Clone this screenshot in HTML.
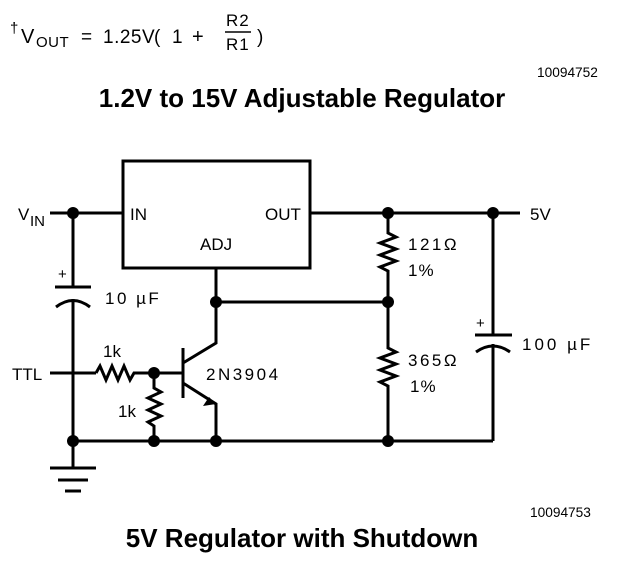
<!DOCTYPE html>
<html><head><meta charset="utf-8"><style>
body{margin:0;background:#fff;width:620px;height:584px;overflow:hidden}
svg{display:block}
text{font-family:"Liberation Sans",sans-serif;fill:#000}
</style></head><body>
<svg width="620" height="584" viewBox="0 0 620 584">
<text x="10" y="33" font-size="15">†</text>
<text x="21" y="43" font-size="20">V</text>
<text x="36" y="47" font-size="15" letter-spacing="0.5">OUT</text>
<text x="81" y="43" font-size="19">=</text>
<text x="103" y="43" font-size="19" letter-spacing="0.5">1.25V</text>
<text x="154" y="43" font-size="19">(</text>
<text x="172" y="43" font-size="19">1</text>
<text x="192" y="43" font-size="20">+</text>
<text x="226" y="26" font-size="17" letter-spacing="1">R2</text>
<line x1="225" y1="32" x2="251" y2="32" stroke="#000" stroke-width="1.5"/>
<text x="226" y="50" font-size="17" letter-spacing="1">R1</text>
<text x="257" y="43" font-size="19">)</text>
<text x="537" y="77" font-size="13.7">10094752</text>
<text x="302" y="107" font-size="26" font-weight="bold" text-anchor="middle">1.2V to 15V Adjustable Regulator</text>

<g stroke="#000" stroke-width="3" fill="none">
<rect x="123" y="161" width="187" height="107"/>
<line x1="50" y1="213" x2="123" y2="213"/>
<line x1="310" y1="213" x2="520" y2="213"/>
<line x1="73" y1="213" x2="73" y2="287"/>
<line x1="55" y1="287" x2="91" y2="287"/>
<path d="M56 307 Q73 294 90 307"/>
<line x1="73" y1="299" x2="73" y2="468"/>
<line x1="50" y1="468" x2="96" y2="468"/>
<line x1="58" y1="480" x2="88" y2="480"/>
<line x1="65" y1="491" x2="81" y2="491"/>
<line x1="50" y1="373" x2="96" y2="373"/>
<polyline points="96,373 100,366 106,380 112,366 118,380 124,366 130,380 134,373 183,373"/>
<polyline points="154,373 154,388 161,392 148,398 161,404 148,410 161,416 148,422 154,426 154,441"/>
<line x1="183" y1="348" x2="183" y2="398"/>
<polyline points="183,363 216,343 216,268"/>
<polyline points="183,383 216,404 216,441"/>
<line x1="216" y1="302" x2="388" y2="302"/>
<line x1="73" y1="441" x2="493" y2="441"/>
<polyline points="388,213 388,233 396,237 380,243 396,249 380,255 396,261 380,267 388,271 388,348 396,352 380,358 396,364 380,370 396,376 380,382 388,386 388,441"/>
<line x1="493" y1="213" x2="493" y2="335"/>
<line x1="475" y1="335" x2="512" y2="335"/>
<path d="M476 352 Q493 340 510 352"/>
<line x1="493" y1="344" x2="493" y2="441"/>
</g>
<polygon points="216,404 203,406 209,397" fill="#000"/>
<g fill="#000">
<circle cx="73" cy="213" r="6"/><circle cx="388" cy="213" r="6"/><circle cx="493" cy="213" r="6"/>
<circle cx="216" cy="302" r="6"/><circle cx="388" cy="302" r="6"/>
<circle cx="154" cy="373" r="6"/>
<circle cx="73" cy="441" r="6"/><circle cx="154" cy="441" r="6"/><circle cx="216" cy="441" r="6"/><circle cx="388" cy="441" r="6"/>
</g>
<g font-size="17">
<text x="18" y="220">V</text><text x="30" y="226" font-size="15">IN</text>
<text x="130" y="220">IN</text>
<text x="265" y="220">OUT</text>
<text x="200" y="250">ADJ</text>
<text x="530" y="220">5V</text>
<text x="58" y="279" font-size="15">+</text>
<text x="105" y="304" letter-spacing="2.5">10 µF</text>
<text x="12" y="380">TTL</text>
<text x="103" y="357">1k</text>
<text x="118" y="417">1k</text>
<text x="206" y="380" letter-spacing="2.5">2N3904</text>
<text x="408" y="250" letter-spacing="2.5">121Ω</text>
<text x="408" y="276" letter-spacing="1">1%</text>
<text x="408" y="366" letter-spacing="2.5">365Ω</text>
<text x="410" y="392" letter-spacing="1">1%</text>
<text x="476" y="328" font-size="15">+</text>
<text x="522" y="350" letter-spacing="3">100 µF</text>
</g>
<text x="530" y="517" font-size="13.7">10094753</text>
<text x="302" y="547" font-size="26" font-weight="bold" text-anchor="middle">5V Regulator with Shutdown</text>
</svg>
</body></html>
